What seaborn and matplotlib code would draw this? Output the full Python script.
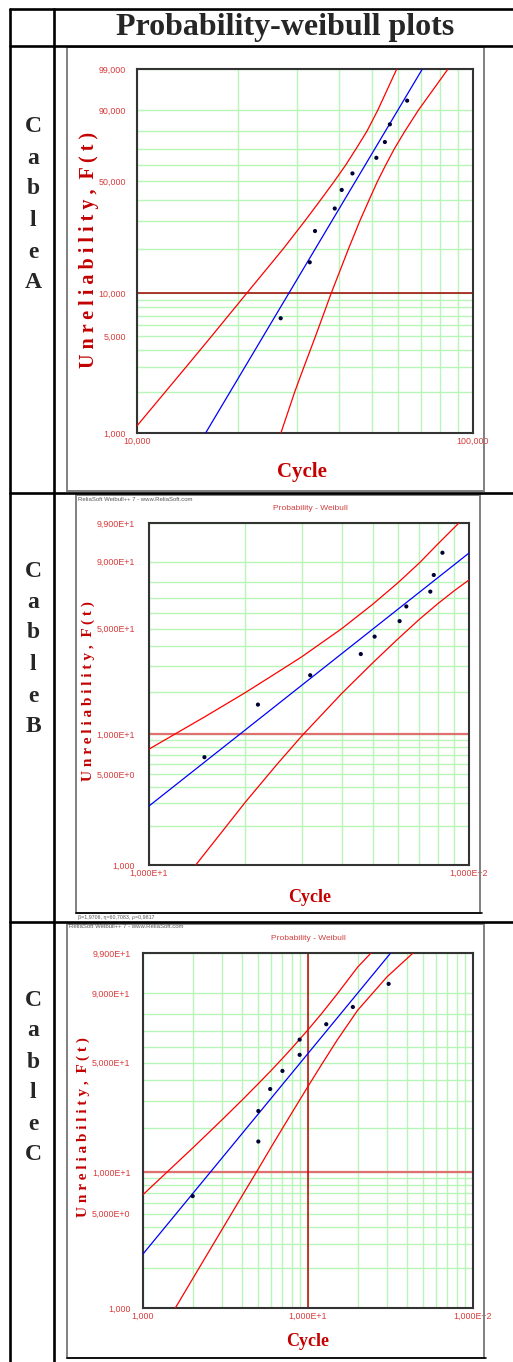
import numpy as np
import matplotlib
matplotlib.use("Agg")
import matplotlib.pyplot as plt
from matplotlib.lines import Line2D
from matplotlib.patches import Rectangle
from matplotlib.ticker import NullFormatter
import seaborn as sns

W, H = 513, 1362

# median ranks (% unreliability), same for all cables
ranks = [6.7, 16.3, 26.0, 35.6, 45.2, 54.8, 64.4, 74.0, 83.7, 93.3]

# Cable A
a_cycles = [26800, 32700, 33900, 38800, 40700, 43800, 51600, 54700, 56600, 63700]
a_fit_cycles = [16030, 70700]
a_fit_unrel = [1, 99]
a_upper_cycles = [9620, 12190, 14010, 16700, 21220, 27270, 31620, 35280, 38650, 41850, 44920, 48330, 52100, 59330]
a_upper_unrel = [1, 2, 3, 5, 10, 20, 30, 40, 50, 60, 70, 80, 90, 99]
a_lower_cycles = [26840, 29530, 31410, 34020, 37860, 42640, 46070, 49150, 51970, 55030, 58380, 62660, 68800, 84270]
a_lower_unrel = [1, 2, 3, 5, 10, 20, 30, 40, 50, 60, 70, 80, 90, 99]

# Cable B
b_cycles = [14.9, 21.9, 31.9, 45.9, 50.7, 60.7, 63.7, 75.7, 77.6, 82.6]
b_fit_cycles = [10, 100]
b_fit_unrel = [2.85, 93.2]
b_upper_cycles = [10, 15, 20, 25, 30, 40, 50, 60, 70, 80, 93, 100]
b_upper_unrel = [7.7, 13.4, 19.8, 26.9, 34.2, 50.0, 65.8, 79.4, 89.5, 95.8, 99.0, 99.5]
b_lower_cycles = [14.0, 20, 25, 30, 40, 50, 60, 70, 80, 90, 100]
b_lower_unrel = [1.0, 3.05, 5.84, 9.63, 19.5, 31.3, 43.9, 56.0, 66.3, 74.6, 81.0]

# Cable C
c_cycles = [2.0, 5.0, 5.0, 5.9, 7.0, 8.9, 8.9, 12.9, 18.7, 30.8]
c_fit_cycles = [1, 31.7]
c_fit_unrel = [2.52, 99]
c_upper_cycles = [1, 2, 3, 4, 5, 6, 7, 8, 10, 12, 15, 20, 24.1, 30]
c_upper_unrel = [6.86, 14.7, 22.7, 30.6, 38.3, 45.6, 52.6, 59.1, 70.6, 79.8, 89.6, 97.3, 99.0, 99.9]
c_lower_cycles = [1.57, 2, 3, 4, 5, 6, 7, 8, 10, 12, 15, 20, 30, 43.3]
c_lower_unrel = [1.0, 1.65, 3.79, 6.77, 10.5, 15.0, 20.0, 25.4, 36.9, 48.4, 64.0, 82.0, 95.2, 99.0]

y_major = [1, 5, 10, 50, 90, 99]
y_minor = [2, 3, 4, 6, 7, 8, 9, 20, 30, 40, 60, 70, 80]
a_ylabels = ["1,000", "5,000", "10,000", "50,000", "90,000", "99,000"]
bc_ylabels = ["1,000", "5,000E+0", "1,000E+1", "5,000E+1", "9,000E+1", "9,900E+1"]


def weib(f):
    f = np.clip(np.asarray(f, dtype=float), 1e-6, 100 - 1e-6)
    return np.log(-np.log(1 - f / 100))


def weib_inv(w):
    return 100 * (1 - np.exp(-np.exp(np.asarray(w, dtype=float))))


sns.set_style("white")
plt.rcParams["font.family"] = ["Liberation Serif", "DejaVu Serif"]
TICKFONT = ["Liberation Sans", "DejaVu Sans"]
SERIF = ["Liberation Serif", "DejaVu Serif"]

fig = plt.figure(figsize=(W / 100, H / 100), dpi=100)


def fx(px):
    return px / W


def fy(py):
    return 1 - py / H


def add_ax(l, t, r, b):
    return fig.add_axes([fx(l), fy(b), (r - l) / W, (b - t) / H])


def draw_chart(ax, cycles, fit_c, fit_f, up_c, up_f, lo_c, lo_f, xlim,
               xticks, xlabels, ylabels, ypad, ten_color, ten_lw):
    ax.set_xscale("log")
    ax.set_yscale("function", functions=(weib, weib_inv))

    lo_dec, hi_dec = int(np.log10(xlim[0])), int(np.log10(xlim[1]))
    x_minor = [k * 10 ** d for d in range(lo_dec, hi_dec) for k in range(2, 10)]
    ax.set_xticks(x_minor, minor=True)
    ax.set_xticks(xticks)
    ax.set_xticklabels(xlabels)
    ax.set_yticks(y_minor, minor=True)
    ax.set_yticks(y_major)
    ax.set_yticklabels(ylabels)
    ax.xaxis.set_minor_formatter(NullFormatter())
    ax.yaxis.set_minor_formatter(NullFormatter())
    ax.grid(True, which="both", color="#b8f5b8", lw=1.0, zorder=0)
    ax.set_axisbelow(True)
    ax.axhline(10, color=ten_color, lw=ten_lw, zorder=1)

    sns.lineplot(x=up_c, y=up_f, ax=ax, color="#ff0000", lw=0.9,
                 estimator=None, sort=False, zorder=3)
    sns.lineplot(x=lo_c, y=lo_f, ax=ax, color="#ff0000", lw=0.9,
                 estimator=None, sort=False, zorder=3)
    sns.lineplot(x=fit_c, y=fit_f, ax=ax, color="#0000ff", lw=0.9,
                 estimator=None, sort=False, zorder=3)
    sns.scatterplot(x=cycles, y=ranks, ax=ax, s=9, color="#000033",
                    edgecolor="none", zorder=5)

    ax.set_xlim(*xlim)
    ax.set_ylim(1, 99)
    ax.set_xlabel("")
    ax.set_ylabel("")
    ax.tick_params(axis="both", which="both", length=0)
    ax.tick_params(axis="y", pad=ypad)
    ax.tick_params(axis="x", pad=3)
    for lab in ax.get_xticklabels() + ax.get_yticklabels():
        lab.set_family(TICKFONT)
        lab.set_fontsize(6.4)
        lab.set_color("#d83a3a")
    for sp in ax.spines.values():
        sp.set_color("#333333")
        sp.set_linewidth(1.5)
        sp.set_visible(True)


# table grid
table_kw = dict(color="black", lw=1.9, transform=fig.transFigure)
for x in (10, 54):
    fig.add_artist(Line2D([fx(x), fx(x)], [fy(9), 0], **table_kw))
for y in (9, 46, 493, 922):
    fig.add_artist(Line2D([fx(10), 1], [fy(y), fy(y)], **table_kw))

fig.text(fx(285), fy(28), "Probability-weibull plots", ha="center", va="center",
         fontsize=23, fontweight="bold", family=SERIF)

# side labels
for word, ys in (("CableA", (127, 158, 188, 220, 252, 282)),
                 ("CableB", (572, 603, 633, 664, 696, 726)),
                 ("CableC", (1000, 1031, 1062, 1093, 1124, 1155))):
    for ch, y in zip(word, ys):
        fig.text(fx(33), fy(y), ch, ha="center", va="center", fontsize=17,
                 fontweight="bold", family=SERIF)

# chart frames
frame_kw = dict(fill=False, edgecolor="#808080", lw=1.4, transform=fig.transFigure)
fig.add_artist(Rectangle((fx(67), fy(491)), (484 - 67) / W, (491 - 47) / H, **frame_kw))
fig.add_artist(Rectangle((fx(76), fy(913)), (480 - 76) / W, (913 - 495) / H, **frame_kw))
fig.add_artist(Rectangle((fx(67), fy(1358)), (484 - 67) / W, (1358 - 924) / H, **frame_kw))
fig.add_artist(Line2D([fx(76), fx(482)], [fy(913), fy(913)], color="black", lw=1.2,
                      transform=fig.transFigure))
fig.add_artist(Line2D([fx(67), fx(486)], [fy(1358), fy(1358)], color="black", lw=1.2,
                      transform=fig.transFigure))

ylabel = "U n r e l i a b i l i t y ,  F ( t )"
red_dark = "#c40000"

# Cable A
ax_a = add_ax(136.7, 69, 473, 433)
draw_chart(ax_a, a_cycles, a_fit_cycles, a_fit_unrel, a_upper_cycles, a_upper_unrel,
           a_lower_cycles, a_lower_unrel, (10000, 100000), [10000, 100000],
           ["10,000", "100,000"], a_ylabels, 7.5, "#a00000", 1.1)
fig.text(fx(89), fy(250), ylabel, rotation=90, ha="center", va="center",
         fontsize=14.5, fontweight="bold", color=red_dark, family=SERIF)
fig.text(fx(302), fy(472), "Cycle", ha="center", va="center", fontsize=15,
         fontweight="bold", color=red_dark, family=SERIF)

# Cable B
ax_b = add_ax(149, 523, 469, 865)
draw_chart(ax_b, b_cycles, b_fit_cycles, b_fit_unrel, b_upper_cycles, b_upper_unrel,
           b_lower_cycles, b_lower_unrel, (10, 100), [10, 100],
           ["1,000E+1", "1,000E+2"], bc_ylabels, 10, "#e07070", 1.6)
fig.text(fx(88), fy(691), ylabel, rotation=90, ha="center", va="center",
         fontsize=11, fontweight="bold", color=red_dark, family=SERIF)
fig.text(fx(310), fy(897), "Cycle", ha="center", va="center", fontsize=13,
         fontweight="bold", color=red_dark, family=SERIF)
fig.text(fx(78), fy(499), "ReliaSoft Weibull++ 7 - www.ReliaSoft.com", ha="left",
         va="center", fontsize=4.3, color="#555555", family=TICKFONT)
fig.text(fx(310), fy(509), "Probability - Weibull", ha="center", va="center",
         fontsize=6, color="#d04040", family=TICKFONT)
fig.text(fx(78), fy(917.5), "β=1,9706, η=60,7083, ρ=0,9817", ha="left", va="center",
         fontsize=3.8, color="#555555", family=TICKFONT)

# Cable C
ax_c = add_ax(143, 953, 473, 1308)
draw_chart(ax_c, c_cycles, c_fit_cycles, c_fit_unrel, c_upper_cycles, c_upper_unrel,
           c_lower_cycles, c_lower_unrel, (1, 100), [1, 10, 100],
           ["1,000", "1,000E+1", "1,000E+2"], bc_ylabels, 9, "#e07070", 1.6)
ax_c.axvline(10, color="#c00000", lw=1.1, zorder=2)
fig.text(fx(83), fy(1127), ylabel, rotation=90, ha="center", va="center",
         fontsize=11, fontweight="bold", color=red_dark, family=SERIF)
fig.text(fx(308), fy(1342), "Cycle", ha="center", va="center", fontsize=13,
         fontweight="bold", color=red_dark, family=SERIF)
fig.text(fx(69), fy(927), "ReliaSoft Weibull++ 7 - www.ReliaSoft.com", ha="left",
         va="center", fontsize=4.3, color="#555555", family=TICKFONT)
fig.text(fx(308), fy(938), "Probability - Weibull", ha="center", va="center",
         fontsize=6, color="#d04040", family=TICKFONT)

fig.savefig("out.png", dpi=100)
